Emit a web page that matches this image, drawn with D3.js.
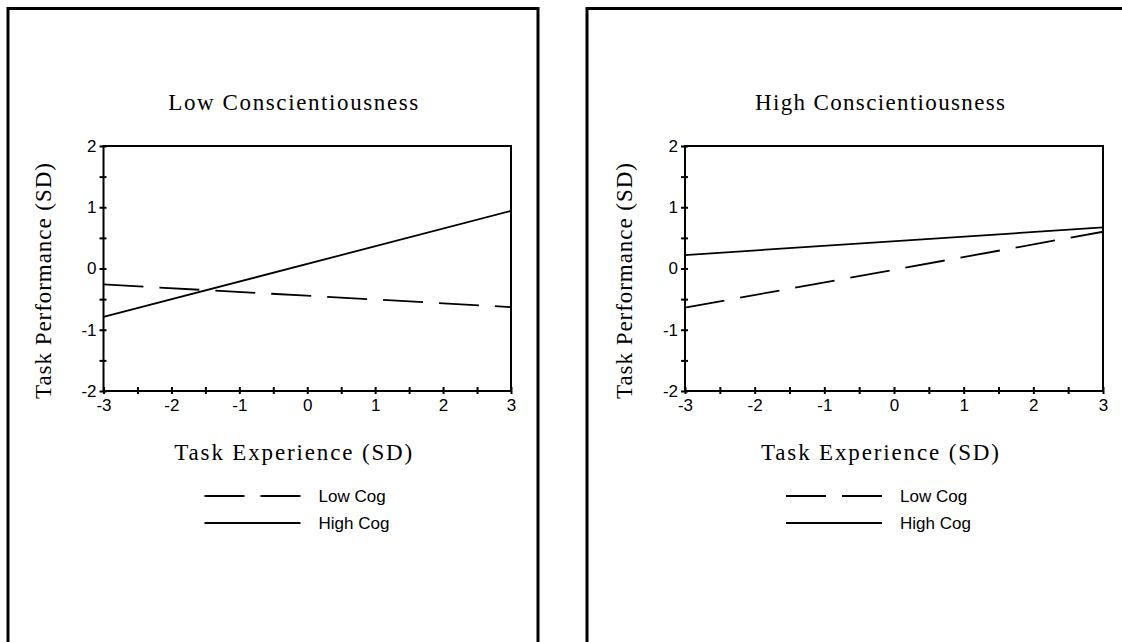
<!DOCTYPE html>
<html>
<head>
<meta charset="utf-8">
<script src="https://cdn.jsdelivr.net/npm/d3@7"></script>
<style>
  html, body { margin: 0; padding: 0; background: #fff; }
  svg { display: block; }
</style>
</head>
<body>
<svg id="chart" width="1122" height="642"></svg>
<script>
// ---- data ----
const panelTitles = ["Low Conscientiousness", "High Conscientiousness"];
const seriesNames = ["Low Cog", "High Cog"];
const xEnds = [-3, 3];
const lowCogLowCon  = [-0.26, -0.63];
const highCogLowCon = [-0.79, 0.94];
const lowCogHighCon  = [-0.64, 0.60];
const highCogHighCon = [0.22, 0.67];
const xTickValues = [-3, -2, -1, 0, 1, 2, 3];
const yTickValues = [-2, -1, 0, 1, 2];
const xMinorTicks = [-3, -2.5, -2, -1.5, -1, -0.5, 0, 0.5, 1, 1.5, 2, 2.5, 3];
const yMinorTicks = [-2, -1.5, -1, -0.5, 0, 0.5, 1, 1.5, 2];
const xLabel = "Task Experience (SD)";
const yLabel = "Task Performance (SD)";

const panels = [
  { title: panelTitles[0], low: lowCogLowCon, high: highCogLowCon,
    border: 8, x0: 103.5, x1: 511 },
  { title: panelTitles[1], low: lowCogHighCon, high: highCogHighCon,
    border: 587, x0: 685, x1: 1103 }
];

const svg = d3.select("#chart");
const serif = "'Liberation Serif', 'Times New Roman', serif";
const sans = "'Liberation Sans', Arial, sans-serif";
const fmt = d => String(d);

panels.forEach(p => {
  const g = svg.append("g");
  g.append("rect")
    .attr("x", p.border).attr("y", 8.5)
    .attr("width", p.border === 8 ? 530 : 700)
    .attr("height", 700)
    .attr("fill", "none").attr("stroke", "#000").attr("stroke-width", 3);

  const x = d3.scaleLinear().domain([-3, 3]).range([p.x0, p.x1]);
  const y = d3.scaleLinear().domain([-2, 2]).range([391, 146]);

  g.append("rect")
    .attr("x", x(-3)).attr("y", y(2))
    .attr("width", x(3) - x(-3)).attr("height", y(-2) - y(2))
    .attr("fill", "none").attr("stroke", "#000").attr("stroke-width", 2);

  const yOut = d3.axisLeft(y).tickValues(yMinorTicks).tickSize(4).tickFormat("");
  const yIn = d3.axisRight(y).tickValues(yMinorTicks).tickSize(3).tickFormat("");
  const yLab = d3.axisLeft(y).tickValues(yTickValues).tickSize(0).tickPadding(7).tickFormat(fmt);
  [yOut, yIn, yLab].forEach(ax => {
    const a = g.append("g").attr("transform", `translate(${x(-3)},0)`).call(ax);
    a.select(".domain").remove();
    a.selectAll("line").attr("stroke", "#000").attr("stroke-width", 2);
    a.selectAll("text").attr("font-family", sans).attr("font-size", 17).attr("fill", "#000");
  });

  const xOut = d3.axisBottom(x).tickValues(xMinorTicks).tickSize(3).tickFormat("");
  const xIn = d3.axisTop(x).tickValues(xMinorTicks).tickSize(4).tickFormat("");
  const xLab = d3.axisBottom(x).tickValues(xTickValues).tickSize(0).tickPadding(8).tickFormat(fmt);
  [xOut, xIn, xLab].forEach(ax => {
    const a = g.append("g").attr("transform", `translate(0,${y(-2)})`).call(ax);
    a.select(".domain").remove();
    a.selectAll("line").attr("stroke", "#000").attr("stroke-width", 2);
    a.selectAll("text").attr("font-family", sans).attr("font-size", 17).attr("fill", "#000");
  });

  const line = d3.line().x((d, i) => x(xEnds[i])).y(d => y(d));
  g.append("path").datum(p.low).attr("d", line)
    .attr("fill", "none").attr("stroke", "#000").attr("stroke-width", 1.8)
    .attr("stroke-dasharray", "40,16");
  g.append("path").datum(p.high).attr("d", line)
    .attr("fill", "none").attr("stroke", "#000").attr("stroke-width", 1.8);

  const cx = (x(-3) + x(3)) / 2 - 14;

  g.append("text").attr("x", cx).attr("y", 110)
    .attr("text-anchor", "middle").attr("font-family", serif).attr("font-size", 23)
    .attr("textLength", 250).attr("lengthAdjust", "spacing")
    .text(p.title);

  g.append("text").attr("x", cx).attr("y", 460)
    .attr("text-anchor", "middle").attr("font-family", serif).attr("font-size", 23)
    .attr("textLength", 238).attr("lengthAdjust", "spacing")
    .text(xLabel);

  g.append("text")
    .attr("transform", `translate(${x(-3) - 53},281) rotate(-90)`)
    .attr("text-anchor", "middle").attr("font-family", serif).attr("font-size", 23)
    .attr("textLength", 236).attr("lengthAdjust", "spacing")
    .text(yLabel);

  const lx0 = x(-3) + 101, lx1 = x(-3) + 197;
  const legendY = [496, 523];
  seriesNames.forEach((name, i) => {
    g.append("line")
      .attr("x1", lx0).attr("x2", lx1)
      .attr("y1", legendY[i]).attr("y2", legendY[i])
      .attr("stroke", "#000").attr("stroke-width", 1.8)
      .attr("stroke-dasharray", i === 0 ? "40,16" : null);
    g.append("text")
      .attr("x", x(-3) + 215).attr("y", legendY[i])
      .attr("dy", "0.35em")
      .attr("font-family", sans).attr("font-size", 17)
      .text(name);
  });
});
</script>
</body>
</html>
